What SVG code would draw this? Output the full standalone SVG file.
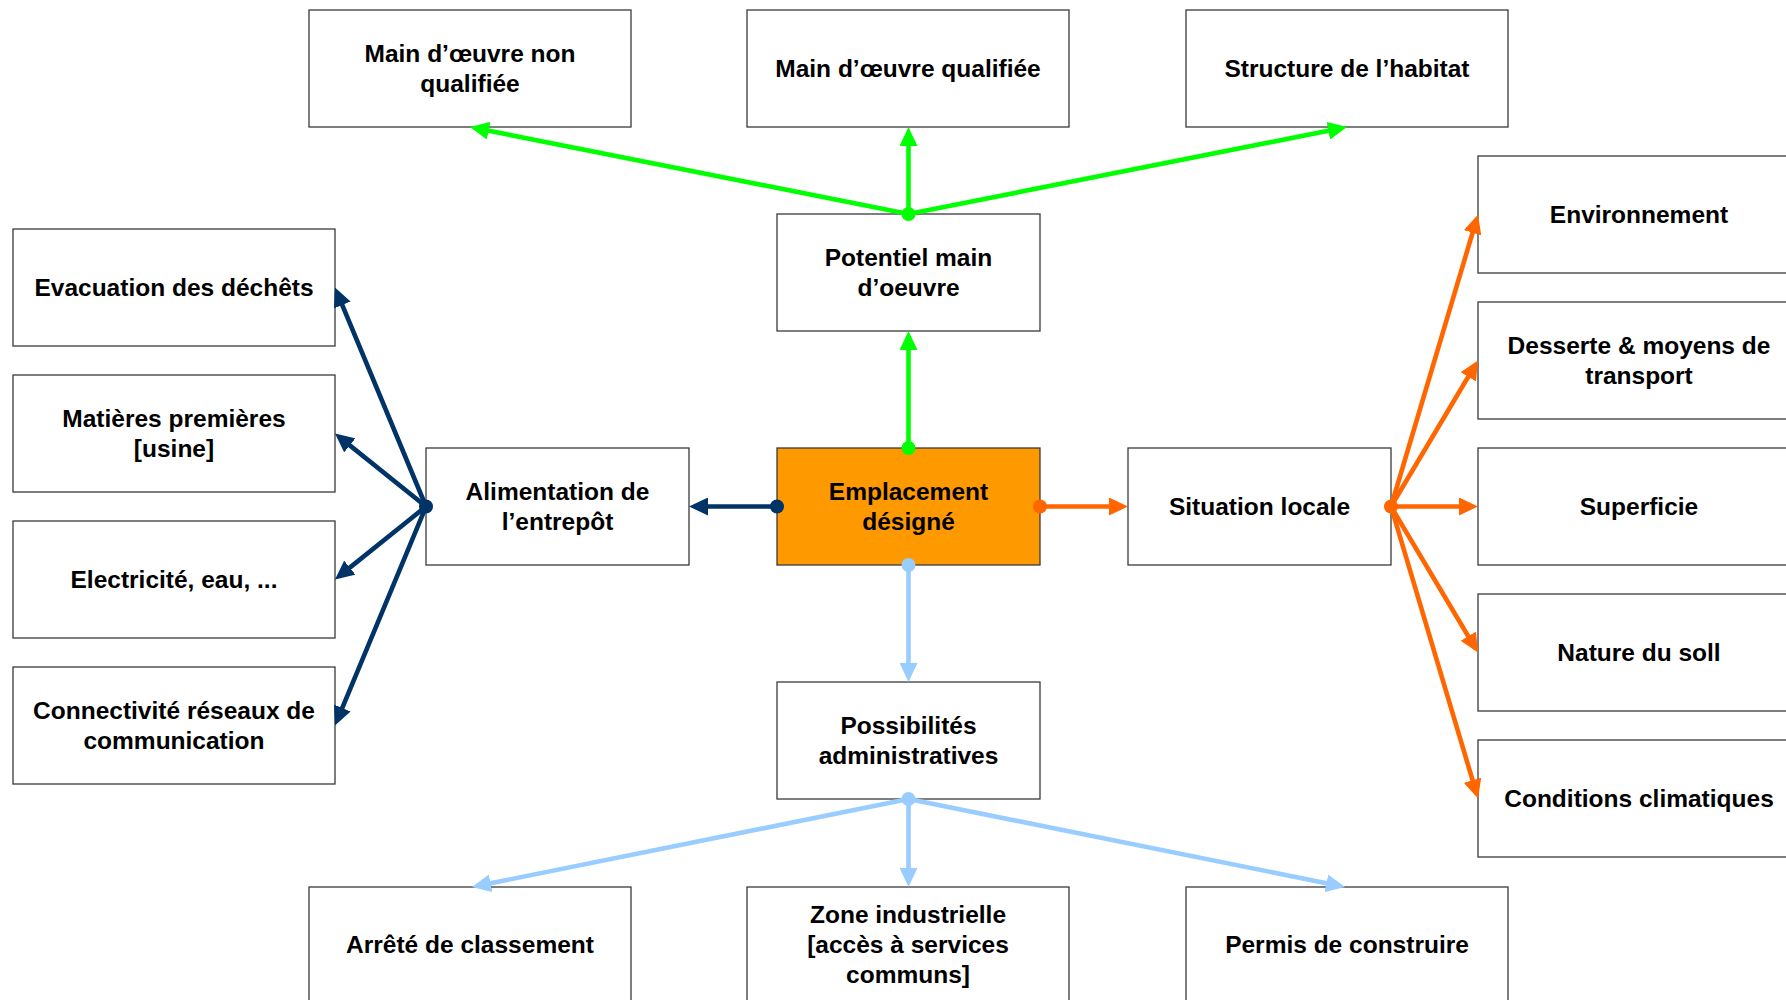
<svg xmlns="http://www.w3.org/2000/svg" width="1786" height="1000" viewBox="0 0 1786 1000">
  <style>
    .box { fill: #ffffff; stroke: #3a3a3a; stroke-width: 1.3; }
    .core { fill: #ff9900; stroke: #3a3a3a; stroke-width: 1.3; }
    .lbl { font-family: "Liberation Sans", Arial, sans-serif; font-weight: bold; font-size: 24.5px; fill: #000000; text-anchor: middle; }
    .green { stroke: #00ff00; fill: none; stroke-width: 4.6; }
    .navy { stroke: #003366; fill: none; stroke-width: 4.6; }
    .orange { stroke: #ff6600; fill: none; stroke-width: 4.6; }
    .sky { stroke: #99ccff; fill: none; stroke-width: 4.6; }
  </style>
  <defs>
    <marker id="arr-green" markerUnits="userSpaceOnUse" markerWidth="19" markerHeight="18" viewBox="0 0 19 18" refX="14" refY="9" orient="auto">
      <path d="M0,0 L19,9 L0,18 z" fill="#00ff00"/>
    </marker>
    <marker id="arr-navy" markerUnits="userSpaceOnUse" markerWidth="19" markerHeight="18" viewBox="0 0 19 18" refX="14" refY="9" orient="auto">
      <path d="M0,0 L19,9 L0,18 z" fill="#003366"/>
    </marker>
    <marker id="arr-orange" markerUnits="userSpaceOnUse" markerWidth="19" markerHeight="18" viewBox="0 0 19 18" refX="14" refY="9" orient="auto">
      <path d="M0,0 L19,9 L0,18 z" fill="#ff6600"/>
    </marker>
    <marker id="arr-sky" markerUnits="userSpaceOnUse" markerWidth="19" markerHeight="18" viewBox="0 0 19 18" refX="14" refY="9" orient="auto">
      <path d="M0,0 L19,9 L0,18 z" fill="#99ccff"/>
    </marker>
  </defs>

  <rect width="1786" height="1000" fill="#ffffff"/>

  <!-- top row -->
  <g id="mo-non-qualifiee">
    <rect class="box" x="309" y="10" width="322" height="117"/>
    <text class="lbl" x="470" y="62">Main d’œuvre non</text>
    <text class="lbl" x="470" y="92">qualifiée</text>
  </g>
  <g id="mo-qualifiee">
    <rect class="box" x="747" y="10" width="322" height="117"/>
    <text class="lbl" x="908" y="77">Main d’œuvre qualifiée</text>
  </g>
  <g id="structure-habitat">
    <rect class="box" x="1186" y="10" width="322" height="117"/>
    <text class="lbl" x="1347" y="77">Structure de l’habitat</text>
  </g>

  <!-- centre column -->
  <g id="potentiel">
    <rect class="box" x="777" y="214" width="263" height="117"/>
    <text class="lbl" x="908.5" y="266">Potentiel main</text>
    <text class="lbl" x="908.5" y="296">d’oeuvre</text>
  </g>
  <g id="emplacement">
    <rect class="core" x="777" y="448" width="263" height="117"/>
    <text class="lbl" x="908.5" y="500">Emplacement</text>
    <text class="lbl" x="908.5" y="530">désigné</text>
  </g>
  <g id="possibilites">
    <rect class="box" x="777" y="682" width="263" height="117"/>
    <text class="lbl" x="908.5" y="734">Possibilités</text>
    <text class="lbl" x="908.5" y="764">administratives</text>
  </g>

  <!-- left branch -->
  <g id="alimentation">
    <rect class="box" x="426" y="448" width="263" height="117"/>
    <text class="lbl" x="557.5" y="500">Alimentation de</text>
    <text class="lbl" x="557.5" y="530">l’entrepôt</text>
  </g>
  <g id="evacuation">
    <rect class="box" x="13" y="229" width="322" height="117"/>
    <text class="lbl" x="174" y="296">Evacuation des déchêts</text>
  </g>
  <g id="matieres">
    <rect class="box" x="13" y="375" width="322" height="117"/>
    <text class="lbl" x="174" y="427">Matières premières</text>
    <text class="lbl" x="174" y="457">[usine]</text>
  </g>
  <g id="electricite">
    <rect class="box" x="13" y="521" width="322" height="117"/>
    <text class="lbl" x="174" y="588">Electricité, eau, ...</text>
  </g>
  <g id="connectivite">
    <rect class="box" x="13" y="667" width="322" height="117"/>
    <text class="lbl" x="174" y="719">Connectivité réseaux de</text>
    <text class="lbl" x="174" y="749">communication</text>
  </g>

  <!-- right branch -->
  <g id="situation">
    <rect class="box" x="1128" y="448" width="263" height="117"/>
    <text class="lbl" x="1259.5" y="515">Situation locale</text>
  </g>
  <g id="environnement">
    <rect class="box" x="1478" y="156" width="322" height="117"/>
    <text class="lbl" x="1639" y="223">Environnement</text>
  </g>
  <g id="desserte">
    <rect class="box" x="1478" y="302" width="322" height="117"/>
    <text class="lbl" x="1639" y="354">Desserte &amp; moyens de</text>
    <text class="lbl" x="1639" y="384">transport</text>
  </g>
  <g id="superficie">
    <rect class="box" x="1478" y="448" width="322" height="117"/>
    <text class="lbl" x="1639" y="515">Superficie</text>
  </g>
  <g id="nature-sol">
    <rect class="box" x="1478" y="594" width="322" height="117"/>
    <text class="lbl" x="1639" y="661">Nature du soll</text>
  </g>
  <g id="climat">
    <rect class="box" x="1478" y="740" width="322" height="117"/>
    <text class="lbl" x="1639" y="807">Conditions climatiques</text>
  </g>

  <!-- bottom row -->
  <g id="arrete">
    <rect class="box" x="309" y="887" width="322" height="117"/>
    <text class="lbl" x="470" y="953">Arrêté de classement</text>
  </g>
  <g id="zone-industrielle">
    <rect class="box" x="747" y="887" width="322" height="117"/>
    <text class="lbl" x="908" y="923">Zone industrielle</text>
    <text class="lbl" x="908" y="953">[accès à services</text>
    <text class="lbl" x="908" y="983">communs]</text>
  </g>
  <g id="permis">
    <rect class="box" x="1186" y="887" width="322" height="117"/>
    <text class="lbl" x="1347" y="953">Permis de construire</text>
  </g>

  <!-- connectors: each line stops 5px short of its arrow tip -->
  <g id="connectors">
    <g class="green" marker-end="url(#arr-green)">
      <line x1="908.5" y1="448" x2="908.5" y2="336"/>
      <line x1="908.5" y1="214" x2="908.5" y2="132"/>
      <line x1="908.5" y1="214" x2="474.9" y2="128"/>
      <line x1="908.5" y1="214" x2="1342.1" y2="128"/>
    </g>
    <g class="navy" marker-end="url(#arr-navy)">
      <line x1="777" y1="506.5" x2="694" y2="506.5"/>
      <line x1="426" y1="506.5" x2="336.9" y2="292.1"/>
      <line x1="426" y1="506.5" x2="338.9" y2="436.6"/>
      <line x1="426" y1="506.5" x2="338.9" y2="576.4"/>
      <line x1="426" y1="506.5" x2="336.9" y2="720.9"/>
    </g>
    <g class="orange" marker-end="url(#arr-orange)">
      <line x1="1040" y1="506.5" x2="1123" y2="506.5"/>
      <line x1="1391" y1="506.5" x2="1476.6" y2="219.3"/>
      <line x1="1391" y1="506.5" x2="1475.4" y2="364.8"/>
      <line x1="1391" y1="506.5" x2="1473" y2="506.5"/>
      <line x1="1391" y1="506.5" x2="1475.4" y2="648.2"/>
      <line x1="1391" y1="506.5" x2="1476.6" y2="793.7"/>
    </g>
    <g class="sky" marker-end="url(#arr-sky)">
      <line x1="908.5" y1="565" x2="908.5" y2="677"/>
      <line x1="908.5" y1="799" x2="908.5" y2="882"/>
      <line x1="908.5" y1="799" x2="476.9" y2="886"/>
      <line x1="908.5" y1="799" x2="1340.1" y2="886"/>
    </g>
    <!-- junction dots -->
    <circle cx="908.5" cy="448" r="7" fill="#00ff00"/>
    <circle cx="908.5" cy="214" r="7" fill="#00ff00"/>
    <circle cx="777" cy="506.5" r="7" fill="#003366"/>
    <circle cx="426" cy="506.5" r="7" fill="#003366"/>
    <circle cx="1040" cy="506.5" r="7" fill="#ff6600"/>
    <circle cx="1391" cy="506.5" r="7" fill="#ff6600"/>
    <circle cx="908.5" cy="565" r="7" fill="#99ccff"/>
    <circle cx="908.5" cy="799" r="7" fill="#99ccff"/>
  </g>
</svg>
